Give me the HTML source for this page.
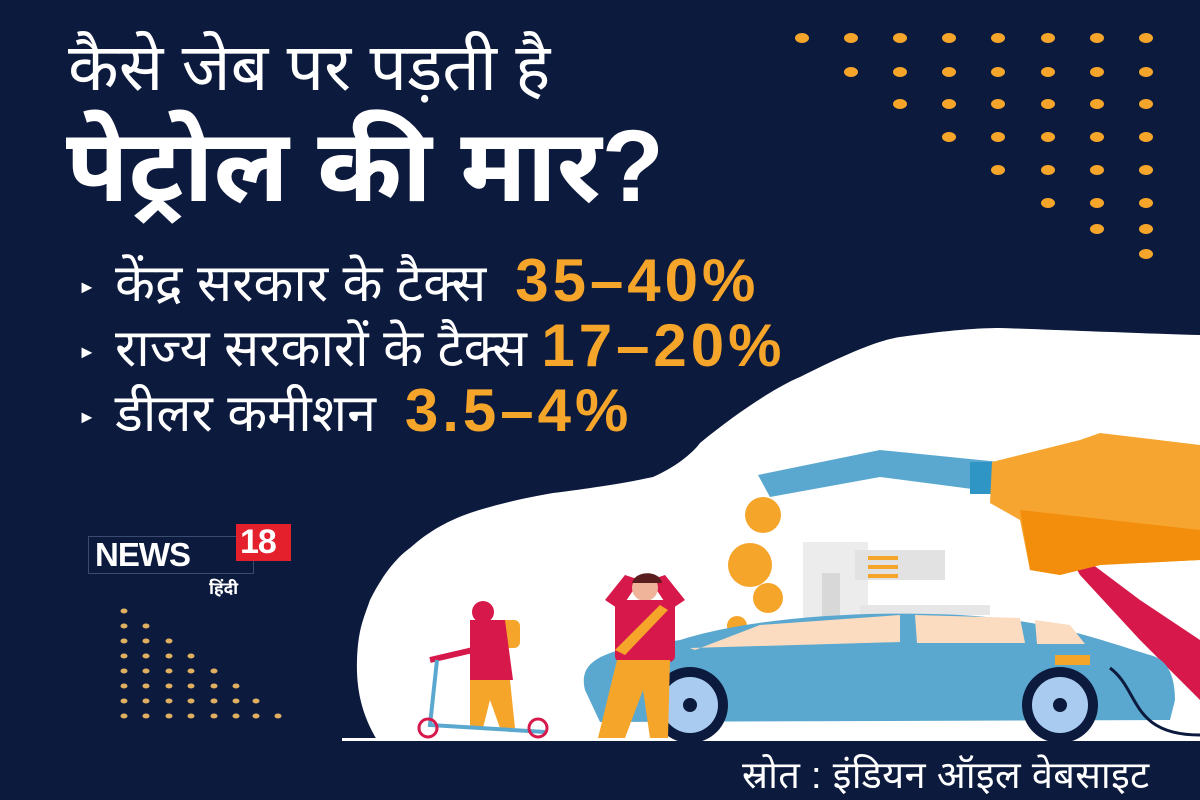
<!DOCTYPE html>
<html><head><meta charset="utf-8"><style>
html,body{margin:0;padding:0}
body{width:1200px;height:800px;position:relative;overflow:hidden;background:#0c1a3d;font-family:"Liberation Sans","Noto Sans","Lohit Devanagari",sans-serif}
.t{position:absolute;color:#fff;white-space:nowrap}
.o{color:#f6a52b;font-weight:bold;font-size:60px;letter-spacing:4px}
.b{position:absolute;left:78px;font-size:18px;color:#fff}
</style></head><body>
<svg width="1200" height="800" style="position:absolute;left:0;top:0">
<path d="M700,443 C740,410 780,385 800,377 C850,352 880,340 900,337 C950,330 980,328 1000,328 C1060,330 1100,332 1200,335 L1200,740 L377,740 C362,715 356,690 357,660 C358,630 363,620 370,600 C385,570 400,555 410,548 C430,530 450,520 470,513 C500,503 530,497 553,493 C600,487 630,482 653,477 C680,465 695,450 700,443 Z" fill="#fff"/>
<rect x="342" y="738" width="858" height="3" fill="#fff"/>
<g fill="#f6a52b" id="dots">
</g>
<rect x="803" y="542" width="65" height="110" fill="#ececec"/>
<rect x="822" y="573" width="18" height="80" fill="#d8d8d8"/>
<rect x="855" y="550" width="90" height="30" fill="#e2e2e2"/>
<rect x="868" y="556" width="30" height="4" fill="#f6a52b"/><rect x="868" y="565" width="30" height="4" fill="#f6a52b"/><rect x="868" y="574" width="30" height="4" fill="#f6a52b"/>
<rect x="860" y="605" width="130" height="10" fill="#e6e6e6"/>
<polygon points="758,475 880,450 1000,462 995,492 880,477 770,497" fill="#5aa8cf"/>
<rect x="970" y="462" width="28" height="32" fill="#2e95c4"/>
<circle cx="763" cy="515" r="18" fill="#f6a52b"/>
<circle cx="750" cy="565" r="22" fill="#f6a52b"/>
<circle cx="768" cy="598" r="15" fill="#f6a52b"/>
<circle cx="737" cy="626" r="10" fill="#f6a52b"/>
<path d="M1060,540 L1140,600 L1200,640 L1200,700 L1140,640 L1080,575 Z" fill="#d6194a"/>
<polygon points="992,462 1080,440 1100,433 1200,445 1200,560 1100,565 1060,575 1030,570 1020,520 990,503" fill="#f7a531"/>
<polygon points="1020,510 1200,530 1200,560 1100,565 1060,575 1030,570" fill="#f38e0d"/>
<path d="M585,690 C580,670 590,658 620,650 L680,640 C750,618 860,610 960,615 C1050,620 1100,640 1150,655 C1170,660 1175,680 1175,700 L1170,720 L600,722 Z" fill="#5aa8cf"/>
<polygon points="695,650 760,625 900,615 900,642 690,648" fill="#fcdcc0"/>
<polygon points="915,615 1020,618 1025,643 917,643" fill="#fcdcc0"/>
<polygon points="1035,620 1070,625 1085,644 1037,644" fill="#fcdcc0"/>
<rect x="1055" y="655" width="35" height="10" fill="#f6a52b"/>
<circle cx="690" cy="705" r="38" fill="#0c1a3d"/><circle cx="690" cy="705" r="28" fill="#a9cbf0"/><circle cx="690" cy="705" r="7" fill="#0c1a3d"/>
<circle cx="1060" cy="705" r="38" fill="#0c1a3d"/><circle cx="1060" cy="705" r="28" fill="#a9cbf0"/><circle cx="1060" cy="705" r="7" fill="#0c1a3d"/>
<path d="M1110,668 C1140,690 1130,735 1200,735" stroke="#0c1a3d" stroke-width="3" fill="none"/>
<path d="M605,600 L625,575 L640,580 L620,610 Z M685,600 L665,575 L650,580 L670,610 Z" fill="#d6194a"/>
<circle cx="645" cy="588" r="13" fill="#f0b49a"/>
<path d="M632,583 C635,570 660,570 662,583 Z" fill="#5a1e1e"/>
<rect x="615" y="600" width="60" height="62" rx="6" fill="#d6194a"/>
<polygon points="660,605 668,610 625,655 615,650" fill="#f6a52b"/>
<polygon points="617,660 670,660 668,738 650,738 643,690 625,738 598,738" fill="#f6a52b"/>
<circle cx="483" cy="612" r="11" fill="#d6194a"/>
<rect x="490" y="620" width="30" height="28" rx="6" fill="#f6a52b"/>
<path d="M470,620 L505,620 L513,680 L470,680 Z" fill="#d6194a"/>
<path d="M470,680 L510,680 L515,728 L500,728 L490,700 L483,728 L470,728 Z" fill="#f6a52b"/>
<path d="M430,660 L473,650" stroke="#d6194a" stroke-width="6"/>
<path d="M437,660 L430,725 L545,732" stroke="#5aa8cf" stroke-width="4" fill="none"/>
<circle cx="428" cy="728" r="9" fill="none" stroke="#d6194a" stroke-width="3"/>
<circle cx="538" cy="728" r="9" fill="none" stroke="#d6194a" stroke-width="3"/>
<rect x="88.5" y="536.5" width="165" height="37" fill="none" stroke="#3a4a70" stroke-width="1"/>
<rect x="236" y="524" width="55" height="37" fill="#e3202c"/>
</svg>
<div class="t" style="left:68px;top:20px;font-size:66px;">कैसे जेब पर पड़ती है</div>
<div class="t" style="left:66px;top:92px;font-size:102px;font-weight:bold">पेट्रोल की मार?</div>
<div class="b" style="top:277px">►</div><div class="b" style="top:342px">►</div><div class="b" style="top:407px">►</div>
<div class="t" style="left:115px;top:246px;font-size:52px;">केंद्र सरकार के टैक्स&nbsp; <span class="o">35–40%</span></div>
<div class="t" style="left:115px;top:311px;font-size:52px;">राज्य सरकारों के टैक्स <span class="o">17–20%</span></div>
<div class="t" style="left:115px;top:376px;font-size:52px;">डीलर कमीशन&nbsp; <span class="o">3.5–4%</span></div>
<div class="t" style="left:95px;top:536px;font-size:33px;font-weight:900;letter-spacing:-1px">NEWS</div>
<div class="t" style="left:240px;top:523px;font-size:34px;font-weight:900;letter-spacing:-1px">18</div>
<div class="t" style="left:209px;top:576px;font-size:17px;font-weight:bold">हिंदी</div>
<div class="t" style="left:742px;top:748px;font-size:38px;letter-spacing:0.3px">स्रोत : इंडियन ऑइल वेबसाइट</div>
<script>
var g=document.getElementById('dots'),s='';
var xs=[802,851,900,949,998,1048,1097,1146],ys=[38,72,104,137,170,203,229,254];
for(var r=0;r<8;r++)for(var c=r;c<8;c++)s+='<ellipse cx="'+xs[c]+'" cy="'+ys[r]+'" rx="7" ry="5"/>';
var bx=[124,146,169,191,214,236,256,278],by=[611,626,641,656,671,686,701,716];
for(var r=0;r<8;r++)for(var c=0;c<=r;c++)s+='<ellipse cx="'+bx[c]+'" cy="'+by[r]+'" rx="3.5" ry="2.5" fill="#e0b060"/>';
g.innerHTML=s;
</script>
</body></html>
